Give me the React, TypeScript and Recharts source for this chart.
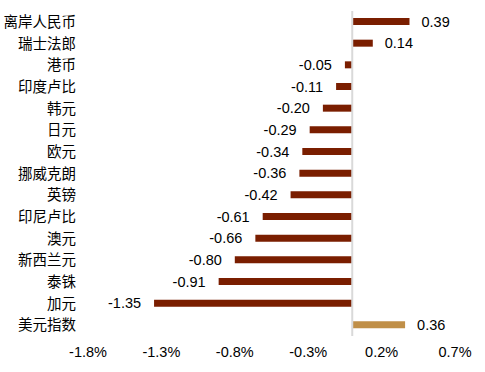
import React from "react";
import { BarChart, Bar, XAxis, YAxis, Cell, LabelList, ReferenceLine } from "recharts";

const categories = [
  "离岸人民币", "瑞士法郎", "港币", "印度卢比", "韩元", "日元", "欧元",
  "挪威克朗", "英镑", "印尼卢比", "澳元", "新西兰元", "泰铢", "加元", "美元指数",
];
const changes = [0.39, 0.14, -0.05, -0.11, -0.2, -0.29, -0.34, -0.36, -0.42, -0.61, -0.66, -0.8, -0.91, -1.35, 0.36];
const xTicks = [-1.8, -1.3, -0.8, -0.3, 0.2, 0.7];

const data = categories.map((name, i) => ({ name, v: changes[i] }));

const FONT = "'Liberation Sans', Arial, 'Noto Sans CJK SC', sans-serif";

const ValueLabel = (props: any) => {
  const { x, y, width, height, value } = props;
  const left = Math.min(x, x + width);
  const right = Math.max(x, x + width);
  const cy = y + height / 2;
  const pos = value >= 0;
  return (
    <text
      x={pos ? right + 12 : left - 13}
      y={cy}
      dy={5.2}
      textAnchor={pos ? "start" : "end"}
      fontSize={14.5}
      fill="#000"
      fontFamily={FONT}
    >
      {Number(value).toFixed(2)}
    </text>
  );
};

export default function App() {
  return (
    <div style={{ position: "absolute", left: 0, top: 0, background: "#fff" }}>
      <BarChart
        width={485}
        height={372}
        data={data}
        layout="vertical"
        margin={{ top: 11, right: 30, bottom: 6, left: 0 }}
      >
        <XAxis
          type="number"
          domain={[-1.8, 0.7]}
          ticks={xTicks}
          tickFormatter={(v: number) => `${v.toFixed(1)}%`}
          axisLine={false}
          tickLine={false}
          tickSize={0}
          tickMargin={11}
          height={30}
          tick={{ fontSize: 14.5, fill: "#000", fontFamily: FONT }}
          interval={0}
        />
        <YAxis
          type="category"
          dataKey="name"
          width={88}
          axisLine={false}
          tickLine={false}
          tickSize={0}
          tickMargin={0}
          dx={-12}
          interval={0}
          tick={{ fontSize: 14.5, fill: "#000", fontFamily: "'Noto Sans CJK SC', sans-serif" }}
        />
        <Bar dataKey="v" barSize={7} isAnimationActive={false}>
          {data.map((d, i) => (
            <Cell key={i} fill={d.name === "美元指数" ? "#C08F48" : "#7A1E00"} />
          ))}
          <LabelList dataKey="v" content={<ValueLabel />} />
        </Bar>
        <ReferenceLine x={0} stroke="#d9d9d9" strokeWidth={2} />
      </BarChart>
    </div>
  );
}
